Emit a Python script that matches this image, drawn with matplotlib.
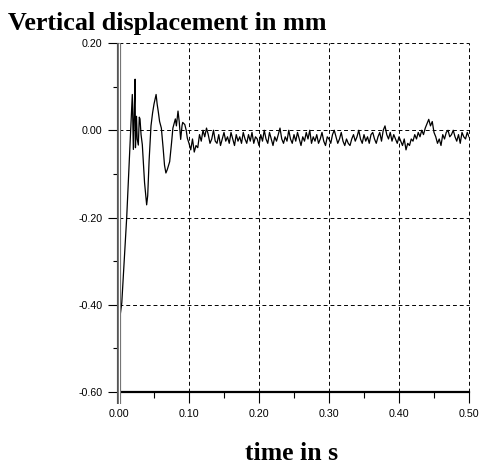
import numpy as np
import matplotlib
matplotlib.use("Agg")
import matplotlib.pyplot as plt
from matplotlib.ticker import MultipleLocator, FixedLocator

# ---- data ----
t_early = [0.000, 0.002, 0.004, 0.011, 0.019, 0.0205, 0.022, 0.023, 0.0235, 0.025,
           0.026, 0.0276, 0.029, 0.030, 0.0315, 0.0333, 0.0365, 0.0395, 0.041, 0.043,
           0.0457, 0.048, 0.050, 0.053, 0.0545, 0.056, 0.058, 0.0605, 0.063, 0.065,
           0.067, 0.069, 0.0724, 0.075, 0.077, 0.0805, 0.082, 0.0843, 0.086, 0.0881,
           0.090, 0.091, 0.094, 0.096, 0.0976, 0.100]
y_early = [-0.450, -0.420, -0.395, -0.200, 0.082, -0.044, 0.060, 0.117, -0.040, 0.032,
           -0.020, -0.034, 0.030, 0.026, -0.010, -0.033, -0.120, -0.171, -0.150, -0.070,
           0.010, 0.040, 0.060, 0.082, 0.060, 0.044, 0.020, 0.005, -0.040, -0.080,
           -0.098, -0.090, -0.072, -0.030, 0.005, 0.026, 0.010, 0.044, 0.020, -0.021,
           0.010, 0.018, 0.013, 0.000, -0.018, -0.030]

t_tail_start, t_tail_step = 0.1025, 0.0025
y_tail = [
    -0.045, -0.02, -0.05, -0.035, -0.04, -0.01, -0.025, 0.0, -0.015, 0.005,
    -0.01, -0.03, -0.02, 0.0, -0.025, -0.03, -0.01, -0.035, -0.02, -0.005,
    -0.025, -0.015, -0.03, -0.005, -0.02, -0.035, -0.01, -0.025, -0.015, -0.03,
    -0.005, -0.02, -0.03, -0.01, -0.025, -0.005, -0.03, -0.015, -0.02, -0.035,
    -0.01, -0.025, 0.0, -0.02, -0.03, -0.005, -0.02, -0.035, -0.015, -0.025,
    -0.01, 0.005, -0.02, -0.03, -0.015, -0.025, 0.0, -0.02, -0.03, -0.01,
    -0.025, -0.005, -0.02, -0.035, -0.015, -0.025, -0.005, -0.02, 0.0, -0.03,
    -0.015, -0.025, -0.01, -0.03, -0.02, -0.005, -0.025, -0.035, -0.015, -0.02,
    -0.03, -0.01, 0.0, -0.015, -0.03, -0.02, -0.005, -0.025, -0.035, -0.02,
    -0.03, -0.035, -0.02, -0.01, -0.025, -0.015, 0.0, -0.02, -0.03, -0.01,
    -0.025, -0.015, -0.03, -0.01, -0.005, -0.02, -0.03, -0.015, -0.005, -0.025,
    0.0, 0.01, -0.01, -0.02, -0.005, -0.025, -0.01, -0.02, -0.03, -0.015,
    -0.025, -0.035, -0.02, -0.045, -0.03, -0.035, -0.02, -0.025, -0.01, -0.02,
    -0.005, -0.015, 0.0, -0.01, 0.005, 0.015, 0.025, 0.01, 0.02, -0.005,
    -0.015, -0.03, -0.02, -0.035, -0.01, -0.02, -0.005, 0.0, -0.015, -0.01,
    0.0, -0.015, -0.025, -0.01, -0.03, -0.005, -0.015, -0.02, -0.005, -0.015,
]
t_tail = t_tail_start + t_tail_step * np.arange(len(y_tail))

time = np.concatenate([np.array(t_early), t_tail])
disp = np.concatenate([np.array(y_early), np.array(y_tail)])

x_major = [0.0, 0.1, 0.2, 0.3, 0.4, 0.5]
y_major = [-0.6, -0.4, -0.2, 0.0, 0.2]

title_text = "Vertical displacement in mm"
xlabel_text = "time in s"

# ---- figure ----
fig = plt.figure(figsize=(4.8, 4.68), dpi=100)
ax = fig.add_axes([119/480, 1-392/468, 350/480, 349/468])

ax.plot(time, disp, color="black", lw=0.9, zorder=3)

ax.set_xlim(0, 0.5)
ax.set_ylim(-0.6, 0.2)

ax.xaxis.set_major_locator(FixedLocator(x_major))
ax.xaxis.set_minor_locator(MultipleLocator(0.05))
ax.yaxis.set_major_locator(FixedLocator(y_major))
ax.yaxis.set_minor_locator(MultipleLocator(0.1))
ax.set_xticklabels([f"{v:.2f}" for v in x_major])
ax.set_yticklabels([f"{v:.2f}" for v in y_major])

for lab in ax.get_xticklabels() + ax.get_yticklabels():
    lab.set_fontfamily("Liberation Sans")
    lab.set_fontsize(7.7)

ax.tick_params(axis="both", which="major", direction="out", length=8, width=0.8,
               color="black")
ax.tick_params(axis="both", which="minor", direction="out", length=4.5, width=0.8,
               color="black")
ax.tick_params(axis="y", which="major", pad=4)
ax.tick_params(axis="x", which="major", pad=4)

# grid (including dashed top and right borders)
dash = (0, (4, 3))
for xv in x_major[1:]:
    ax.axvline(xv, color="black", lw=0.7, ls=dash, zorder=1, clip_on=False)
for yv in y_major[1:]:
    ax.axhline(yv, color="black", lw=0.7, ls=dash, zorder=1, clip_on=False)

# spines
ax.spines["top"].set_visible(False)
ax.spines["right"].set_visible(False)
ax.spines["bottom"].set_linewidth(1.6)
ax.spines["left"].set_visible(False)
# double-line y axis extending slightly below the bottom
ax.plot([0, 0], [-0.033, 1.0], transform=ax.transAxes, color="#555555", lw=3.0,
        clip_on=False, zorder=4, solid_capstyle="butt")
ax.plot([0, 0], [-0.033, 1.0], transform=ax.transAxes, color="white", lw=1.0,
        clip_on=False, zorder=5, solid_capstyle="butt")

fig.text(8/480, 1-30/468, title_text, fontfamily="Liberation Serif",
         fontweight="bold", fontsize=18.8, ha="left", va="baseline")
fig.text(292/480, 1-460/468, xlabel_text, fontfamily="Liberation Serif",
         fontweight="bold", fontsize=18.5, ha="center", va="baseline")

fig.savefig("out.png", dpi=100)
